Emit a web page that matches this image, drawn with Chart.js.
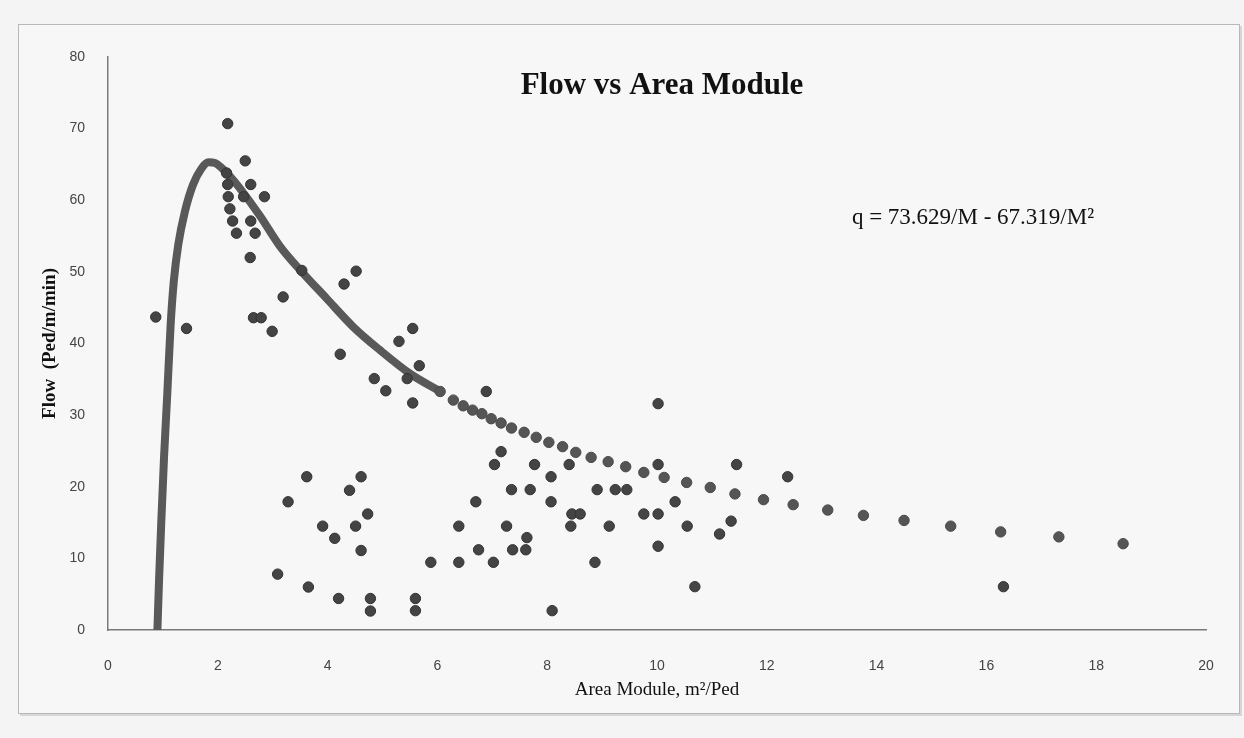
<!DOCTYPE html>
<html>
<head>
<meta charset="utf-8">
<title>Flow vs Area Module</title>
<script src="https://cdn.jsdelivr.net/npm/chart.js@4/dist/chart.umd.min.js"></script>
<style>
  html, body { margin: 0; padding: 0; background: #f4f4f4; }
  #wrap { width: 1244px; height: 738px; }
</style>
</head>
<body>
<div id="wrap"><canvas id="flowChart" width="1244" height="738"></canvas></div>
<script>
// observed points (area module M, flow q)
const obsM = [0.87, 1.43, 2.18, 2.50, 2.16, 2.18, 2.60, 2.19, 2.47, 2.85, 2.22, 2.27, 2.60, 2.34, 2.68, 2.59,
    3.53, 4.52, 4.30, 3.19, 2.65, 2.79, 2.99, 5.30, 4.23, 4.85, 5.06, 5.55, 5.67, 5.45, 5.55, 6.89, 10.02,
    7.16, 7.04, 7.77, 8.40, 10.02, 8.07, 7.35, 7.69, 8.91, 9.24, 9.45, 6.70, 8.07, 10.33, 8.45, 8.60, 9.76,
    10.02, 6.39, 7.26, 8.43, 9.13, 10.55, 7.63, 6.75, 7.37, 7.61, 10.02, 5.88, 6.39, 7.02, 8.87, 10.69,
    5.60, 5.60, 8.09, 11.45, 12.38, 11.35, 11.14, 16.31, 3.62, 4.61, 4.40, 3.28, 4.73, 3.91, 4.51, 4.13,
    4.61, 3.09, 3.65, 4.20, 4.78, 4.78];
const obsQ = [43.7, 42.1, 70.7, 65.5, 63.8, 62.2, 62.2, 60.5, 60.5, 60.5, 58.8, 57.1, 57.1, 55.4, 55.4, 52.0,
    50.2, 50.1, 48.3, 46.5, 43.6, 43.6, 41.7, 40.3, 38.5, 35.1, 33.4, 42.1, 36.9, 35.1, 31.7, 33.3, 31.6,
    24.9, 23.1, 23.1, 23.1, 23.1, 21.4, 19.6, 19.6, 19.6, 19.6, 19.6, 17.9, 17.9, 17.9, 16.2, 16.2, 16.2,
    16.2, 14.5, 14.5, 14.5, 14.5, 14.5, 12.9, 11.2, 11.2, 11.2, 11.7, 9.45, 9.45, 9.45, 9.45, 6.05,
    4.4, 2.7, 2.7, 23.1, 21.4, 15.2, 13.4, 6.05, 21.4, 21.4, 19.5, 17.9, 16.2, 14.5, 14.5, 12.8,
    11.1, 7.8, 6.0, 4.4, 4.4, 2.65];

// fitted curve, dense part (reads as a solid band)
const fitLineM = [0.90, 0.93, 0.97, 1.02, 1.08, 1.14, 1.20, 1.28, 1.40, 1.55, 1.70, 1.83, 1.95, 2.10, 2.25,
    2.40, 2.77, 3.13, 3.53, 3.98, 4.47, 4.95, 5.50, 6.05];
const fitLineQ = [0.0, 7.0, 15.0, 24.0, 33.0, 42.5, 48.8, 53.8, 58.4, 62.2, 64.4, 65.3, 65.2, 64.3, 63.1,
    61.7, 57.8, 53.6, 50.0, 46.3, 42.3, 39.1, 35.8, 33.3];

// fitted curve, separate markers further out
const fitDotM = [6.05, 6.29, 6.47, 6.64, 6.81, 6.98, 7.16, 7.35, 7.58, 7.80, 8.03, 8.28, 8.52, 8.80, 9.11,
    9.43, 9.76, 10.13, 10.54, 10.97, 11.42, 11.94, 12.48, 13.11, 13.76, 14.50, 15.35, 16.26, 17.32, 18.49];
const fitDotQ = [33.3, 32.1, 31.3, 30.7, 30.2, 29.5, 28.9, 28.2, 27.6, 26.9, 26.2, 25.6, 24.8, 24.1, 23.5,
    22.8, 22.0, 21.3, 20.6, 19.9, 19.0, 18.2, 17.5, 16.75, 16.0, 15.3, 14.5, 13.7, 13.0, 12.05];

const chartTitle = 'Flow vs Area Module';
const equationText = 'q = 73.629/M - 67.319/M²';
const xTitle = 'Area Module, m²/Ped';
const yTitle = 'Flow  (Ped/m/min)';

function toXY(xs, ys) {
    return xs.map((x, i) => ({ x: x, y: ys[i] }));
}

const serif = "'Liberation Serif', 'Times New Roman', serif";
const tickFont = { family: "'Liberation Sans Narrow', 'Liberation Sans', Arial, sans-serif", size: 14 };

// frame, heading and equation
const decorPlugin = {
    id: 'decor',
    beforeDraw(chart) {
        const ctx = chart.ctx;
        ctx.save();
        ctx.fillStyle = '#f4f4f4';
        ctx.fillRect(0, 0, chart.width, chart.height);
        ctx.fillStyle = '#d6d6d6';
        ctx.fillRect(20, 26, 1222, 690);
        ctx.fillStyle = '#f7f7f7';
        ctx.fillRect(18, 24, 1222, 690);
        ctx.strokeStyle = '#b8b8b8';
        ctx.lineWidth = 1;
        ctx.strokeRect(18.5, 24.5, 1221, 689);
        ctx.restore();
    },
    afterDraw(chart) {
        const ctx = chart.ctx;
        ctx.save();
        ctx.fillStyle = '#111';
        ctx.textAlign = 'center';
        ctx.textBaseline = 'middle';
        ctx.font = 'bold 31px ' + serif;
        ctx.fillText(chartTitle, 662, 86);
        ctx.font = '23px ' + serif;
        ctx.fillText(equationText, 973, 218);
        ctx.restore();
    }
};

const ctx = document.getElementById('flowChart').getContext('2d');
new Chart(ctx, {
    type: 'scatter',
    data: {
        datasets: [
            {
                label: 'Observed',
                data: toXY(obsM, obsQ),
                pointRadius: 5.2,
                pointBackgroundColor: '#444',
                pointBorderColor: '#333',
                pointBorderWidth: 1
            },
            {
                label: 'Fit markers',
                data: toXY(fitDotM, fitDotQ),
                pointRadius: 5.2,
                pointBackgroundColor: '#555',
                pointBorderColor: '#4a4a4a',
                pointBorderWidth: 1
            },
            {
                label: 'Fit',
                data: toXY(fitLineM, fitLineQ),
                showLine: true,
                borderColor: '#595959',
                borderWidth: 8,
                borderCapStyle: 'round',
                cubicInterpolationMode: 'monotone',
                pointRadius: 0
            }
        ]
    },
    options: {
        responsive: false,
        animation: false,
        events: [],
        layout: { padding: { left: 0, right: 38, top: 57, bottom: 0 } },
        plugins: {
            legend: { display: false },
            tooltip: { enabled: false }
        },
        scales: {
            x: {
                type: 'linear',
                min: 0,
                max: 20,
                ticks: { stepSize: 2, color: '#444', font: tickFont, padding: 20 },
                grid: { display: false },
                border: { display: true, color: '#7a7a7a', width: 1.5 },
                title: {
                    display: true,
                    text: xTitle,
                    color: '#111',
                    font: { family: serif, size: 19 },
                    padding: { top: 0, bottom: 37 }
                },
                afterFit(scale) { scale.height = 108; }
            },
            y: {
                min: 0,
                max: 80,
                ticks: { stepSize: 10, color: '#444', font: tickFont, padding: 15 },
                grid: { display: false },
                border: { display: true, color: '#7a7a7a', width: 1.5 },
                title: {
                    display: true,
                    text: yTitle,
                    color: '#111',
                    font: { family: serif, size: 19, weight: 'bold' },
                    padding: { top: 39, bottom: 0 }
                },
                afterFit(scale) { scale.width = 108; }
            }
        }
    },
    plugins: [decorPlugin]
});
</script>
</body>
</html>
